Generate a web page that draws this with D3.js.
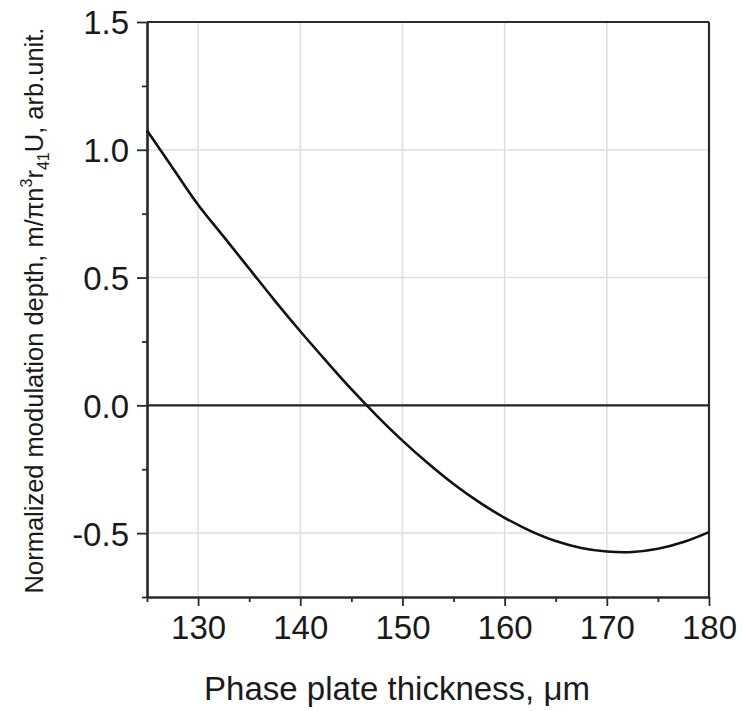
<!DOCTYPE html>
<html><head><meta charset="utf-8">
<script src="https://cdn.jsdelivr.net/npm/d3@7"></script>
<style>body{margin:0;background:#fff}svg{display:block}text{font-family:"Liberation Sans",Arial,sans-serif;fill:#1a1a1a}</style>
</head><body><svg id="c" width="743" height="711"></svg>
<script>
const thickness = [125, 127.5, 130, 132.5, 135, 137.5, 140, 142.5, 145, 147.5, 150, 152.5, 155, 157.5, 160, 162.5, 165, 167.5, 170, 172.5, 175, 177.5, 180];
const depth = [1.075, 0.93, 0.785, 0.66, 0.535, 0.41, 0.29, 0.175, 0.063, -0.041, -0.138, -0.227, -0.308, -0.379, -0.44, -0.491, -0.531, -0.558, -0.572, -0.574, -0.5615, -0.535, -0.496];
const xTicks = [130, 140, 150, 160, 170, 180];
const xMinor = [125, 135, 145, 155, 165, 175];
const yTicks = [-0.5, 0.0, 0.5, 1.0, 1.5];
const yMinor = [-0.75, -0.25, 0.25, 0.75, 1.25];
const xLabel = "Phase plate thickness, μm";

const svg = d3.select("#c");
const L = 147, R = 709, T = 22, B = 597;
const x = d3.scaleLinear().domain([125, 180]).range([L, R]);
const y = d3.scaleLinear().domain([-0.75, 1.5]).range([B, T]);
const FONT = '"Liberation Sans",Arial,sans-serif';

// grid
svg.append("g").selectAll("line").data(xTicks.slice(0, -1)).join("line")
  .attr("x1", d => x(d)).attr("x2", d => x(d)).attr("y1", T).attr("y2", B)
  .attr("stroke", "#dedede").attr("stroke-width", 1.5);
svg.append("g").selectAll("line").data(yTicks.filter(d => d !== 0 && d !== 1.5)).join("line")
  .attr("x1", L).attr("x2", R).attr("y1", d => y(d)).attr("y2", d => y(d))
  .attr("stroke", "#dedede").attr("stroke-width", 1.5);

// zero line
svg.append("line").attr("x1", L).attr("x2", R).attr("y1", y(0)).attr("y2", y(0))
  .attr("stroke", "#222").attr("stroke-width", 2.2);

// axes
const fmtY = d => (d === 0 ? "0.0" : d3.format(".1f")(d)).replace("−", "-");
const gx = svg.append("g").attr("transform", `translate(0,${B})`)
  .call(d3.axisBottom(x).tickValues(xTicks).tickSize(9).tickPadding(10).tickSizeOuter(0));
const gxm = svg.append("g").attr("transform", `translate(0,${B})`)
  .call(d3.axisBottom(x).tickValues(xMinor).tickSize(5).tickFormat("").tickSizeOuter(0));
const gy = svg.append("g").attr("transform", `translate(${L},0)`)
  .call(d3.axisLeft(y).tickValues(yTicks).tickFormat(fmtY).tickSize(10).tickPadding(8).tickSizeOuter(0));
const gym = svg.append("g").attr("transform", `translate(${L},0)`)
  .call(d3.axisLeft(y).tickValues(yMinor).tickSize(5).tickFormat("").tickSizeOuter(0));
[gx, gxm, gy, gym].forEach(g => {
  g.selectAll(".domain").attr("stroke", "#2a2a2a").attr("stroke-width", 2.2);
  g.selectAll(".tick line").attr("stroke", "#2a2a2a").attr("stroke-width", 1.8);
});
gx.selectAll("text").attr("font-size", 33).attr("fill", "#1a1a1a").style("font-family", FONT);
gy.selectAll("text").attr("font-size", 33).attr("fill", "#1a1a1a").attr("dy", "0.36em").style("font-family", FONT);

// top and right border
svg.append("line").attr("x1", L).attr("x2", R).attr("y1", T).attr("y2", T).attr("stroke", "#2a2a3a").attr("stroke-width", 2.2);
svg.append("line").attr("x1", R).attr("x2", R).attr("y1", T).attr("y2", B).attr("stroke", "#2a2a2a").attr("stroke-width", 2.2);

// curve
const line = d3.line().x((d, i) => x(thickness[i])).y(d => y(d)).curve(d3.curveCatmullRom);
svg.append("path").datum(depth).attr("d", line).attr("fill", "none")
  .attr("stroke", "#111").attr("stroke-width", 2.6);

// labels
svg.append("text").attr("x", 397).attr("y", 700).attr("text-anchor", "middle")
  .attr("font-size", 33).text(xLabel);
const yl = svg.append("text").attr("transform", `translate(43,${(T + B) / 2 + 1}) rotate(-90)`)
  .attr("text-anchor", "middle").attr("font-size", 25.5);
yl.append("tspan").text("Normalized modulation depth, m/πn");
yl.append("tspan").attr("dy", -11).attr("font-size", 16).text("3");
yl.append("tspan").attr("dy", 11).text("r");
yl.append("tspan").attr("dy", 6).attr("font-size", 16).text("41");
yl.append("tspan").attr("dy", -6).text("U, arb.unit.");
</script></body></html>
